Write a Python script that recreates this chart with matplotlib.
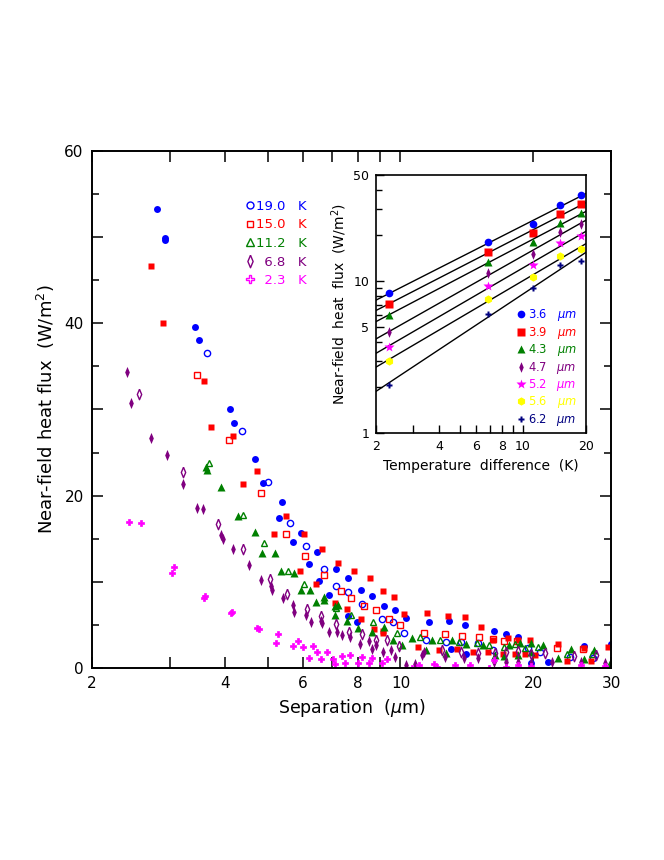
import matplotlib.pyplot as plt
import numpy as np
from matplotlib.lines import Line2D
from matplotlib.ticker import FixedLocator, MultipleLocator, FuncFormatter, NullFormatter

plt.rcParams['font.family'] = ['DejaVu Sans']
plt.rcParams['mathtext.fontset'] = 'dejavusans'

# ---- main plot data: separation (um) vs near-field heat flux (W/m^2) ----
# 19.0 K
b_fill_x = [2.80, 2.92, 2.93, 3.42, 3.50, 4.11, 4.20, 4.68, 4.87, 5.38, 5.30, 5.96, 5.72, 6.47, 6.19,
            7.13, 7.59, 6.55, 8.13, 6.89, 8.62, 9.2, 7.6, 7.97, 9.7, 10.3, 11.6, 12.9, 14.0, 16.3,
            17.3, 18.5, 13.0, 14.1, 21.6, 26.1, 30.0, 19.8]
b_fill_y = [53.3, 49.9, 49.7, 39.6, 38.1, 30.0, 28.4, 24.3, 21.5, 19.3, 17.4, 15.7, 14.6, 13.5, 12.1,
            11.5, 10.4, 10.1, 9.1, 8.5, 8.3, 7.2, 6.0, 5.3, 6.7, 5.8, 5.3, 5.4, 5.0, 4.3,
            3.9, 3.6, 2.2, 1.6, 0.7, 2.5, 2.8, 0.6]
b_open_x = [3.65, 4.38, 5.01, 5.63, 6.12, 6.72, 7.14, 7.60, 8.17, 9.1, 9.6, 10.2, 11.4, 12.7, 13.7,
            15.0, 16.2, 19.5, 20.7, 24.2, 27.3]
b_open_y = [36.6, 27.5, 21.6, 16.8, 14.2, 11.5, 9.5, 8.8, 7.4, 5.7, 5.3, 4.1, 3.2, 3.0, 3.0,
            2.9, 2.1, 2.3, 1.9, 1.3, 1.1]

# 15.0 K
r_fill_x = [2.72, 2.90, 3.58, 3.72, 4.18, 4.74, 4.39, 5.50, 5.16, 6.03, 6.64, 7.23, 7.83, 5.93, 8.54,
            6.44, 9.12, 7.10, 7.57, 8.12, 8.7, 9.12, 9.65, 10.2, 11.5, 12.8, 14.0, 15.2, 17.5, 18.5,
            19.7, 10.98, 12.2, 13.4, 14.6, 15.8, 16.2, 17.1, 18.2, 19.2, 20.2, 22.8, 23.8, 26.1,
            27.0, 29.5, 9.15]
r_fill_y = [46.7, 40.0, 33.3, 28.0, 26.9, 22.9, 21.3, 17.6, 15.5, 15.5, 13.8, 12.2, 11.2, 11.2, 10.4,
            9.8, 8.9, 7.5, 6.8, 5.7, 4.5, 4.3, 8.2, 6.3, 6.4, 6.0, 5.9, 4.7, 3.5, 3.3,
            3.2, 2.4, 2.1, 2.2, 1.9, 1.8, 3.3, 1.6, 1.6, 1.6, 1.5, 2.8, 0.8, 2.3,
            0.85, 2.4, 4.1]
r_open_x = [3.45, 4.09, 4.84, 5.51, 6.09, 6.71, 7.32, 7.73, 8.27, 8.79, 9.4, 10.0, 11.3, 12.6, 13.8,
            15.1, 16.2, 17.2, 18.4, 22.6, 25.9]
r_open_y = [34.0, 26.4, 20.3, 15.5, 13.0, 10.8, 8.9, 8.1, 7.2, 6.7, 5.7, 5.0, 4.1, 3.9, 3.7,
            3.6, 3.4, 3.1, 3.1, 2.3, 2.2]

# 11.2 K
g_fill_x = [3.65, 3.62, 3.93, 4.29, 4.68, 4.85, 5.20, 5.37, 5.75, 5.96, 6.23, 6.70, 6.70, 6.44, 7.10,
            7.2, 7.10, 7.56, 8.0, 8.62, 9.2, 9.6, 10.1, 10.6, 11.4, 11.8, 13.1, 14.1, 12.7, 15.4,
            16.4, 17.6, 18.7, 19.8, 21.0, 17.2, 18.5, 19.8, 22.7, 24.4, 26.1, 27.5, 29.8]
g_fill_y = [23.0, 23.3, 21.0, 17.6, 15.8, 13.3, 13.3, 11.2, 11.0, 9.1, 9.1, 8.2, 7.9, 7.6, 7.2,
            7.3, 6.2, 5.4, 4.6, 4.2, 4.8, 3.3, 2.7, 3.5, 2.1, 3.3, 3.3, 2.8, 1.7, 2.7,
            1.5, 2.7, 2.9, 2.9, 2.7, 1.4, 1.5, 1.9, 1.2, 2.2, 1.0, 2.1, 0.6]
g_open_x = [3.68, 4.39, 4.90, 5.55, 6.03, 7.15, 7.73, 8.67, 9.8, 11.1, 12.3, 13.6, 14.9, 15.9, 17.2,
            18.2, 19.2, 20.5, 23.9, 27.2]
g_open_y = [23.8, 17.8, 14.5, 11.2, 9.8, 7.0, 6.2, 5.3, 4.0, 3.6, 3.3, 3.0, 2.9, 2.7, 2.4,
            2.8, 2.3, 2.4, 1.6, 1.6]

# 6.8 K
p_fill_x = [2.40, 2.45, 2.72, 2.95, 3.22, 3.46, 3.57, 3.92, 3.96, 4.18, 4.53, 4.84, 5.1, 5.12, 5.43,
            5.71, 5.75, 6.12, 6.26, 6.6, 6.65, 6.87, 7.17, 7.36, 7.7, 8.1, 8.5, 8.8, 8.6, 9.15,
            9.5, 9.7, 11.2, 11.3, 10.8, 12.6, 13.9, 15.0, 16.3, 17.3, 18.5, 19.8, 22.0, 25.6, 29.0,
            10.3]
p_fill_y = [34.4, 30.8, 26.7, 24.7, 21.3, 18.6, 18.4, 15.4, 15.0, 13.8, 11.9, 10.2, 9.5, 9.1, 8.1,
            7.3, 6.5, 6.2, 5.3, 5.4, 5.2, 4.2, 4.2, 3.8, 3.6, 2.8, 3.1, 2.7, 2.2, 1.8,
            2.1, 1.3, 1.5, 1.9, 0.5, 1.3, 1.2, 1.2, 0.7, 0.7, 0.7, 0.6, 0.7, 0.7, 0.6,
            0.3]
p_open_x = [2.56, 3.21, 3.85, 4.40, 5.05, 5.54, 6.14, 6.6, 7.15, 7.65, 8.2, 8.8, 9.3, 9.9, 12.4,
            13.7, 15.0, 16.4, 17.3, 18.5, 19.8, 21.3, 24.7, 27.7]
p_open_y = [31.8, 22.7, 16.7, 13.8, 10.3, 8.6, 6.9, 6.0, 5.1, 4.2, 3.9, 3.3, 3.3, 2.6, 2.1,
            1.8, 1.7, 1.7, 1.9, 2.0, 1.6, 1.7, 1.4, 1.5]

# 2.3 K
m_x = [2.42, 2.58, 3.07, 3.03, 3.60, 3.58, 4.15, 4.12, 4.77, 4.74, 5.27, 5.22, 5.7, 5.85, 6.0,
       6.32, 6.47, 6.22, 6.6, 6.83, 7.04, 7.12, 7.36, 7.5, 7.7, 8.0, 8.2, 8.5, 8.6, 9.1,
       9.3, 10.6, 11.0, 11.9, 12.1, 13.3, 14.4, 15.9, 16.3, 17.3, 18.5, 19.8, 25.6, 29.0]
m_y = [16.9, 16.8, 11.7, 11.0, 8.4, 8.1, 6.5, 6.4, 4.5, 4.6, 3.9, 2.9, 2.5, 3.1, 2.4,
       2.6, 1.9, 1.2, 1.0, 1.8, 1.0, 0.5, 1.4, 0.6, 1.5, 0.6, 1.3, 0.6, 1.1, 0.6,
       1.0, 0.0, 0.35, 0.5, 0.1, 0.35, 0.35, 0.05, 0.9, 0.1, 0.35, 0.2, 0.35, 0.2]

# ---- inset data: temperature difference (K) vs flux for each separation ----
dT = [2.3, 6.8, 11.2, 15.0, 19.0]
sep_labels = ['3.6', '3.9', '4.3', '4.7', '5.2', '5.6', '6.2']
flux_36 = [8.3, 18.0, 23.8, 31.6, 36.9]
flux_39 = [7.1, 15.5, 20.8, 27.5, 32.0]
flux_43 = [6.0, 13.4, 18.0, 24.0, 27.9]
flux_47 = [4.6, 11.3, 15.1, 21.1, 23.8]
flux_52 = [3.7, 9.3, 12.8, 17.7, 19.9]
flux_56 = [3.0, 7.6, 10.7, 14.7, 16.3]
flux_62 = [2.07, 6.1, 9.0, 12.8, 13.6]

purple = '#800080'
green = '#008000'
diamond = [(0, 1), (0.42, 0), (0, -1), (-0.42, 0), (0, 1)]

fig = plt.figure(figsize=(6.64, 8.6), dpi=100)
ax = fig.add_axes([0.1386, 0.2233, 0.7816, 0.6012])

ax.plot(b_fill_x, b_fill_y, 'o', color='blue', ms=5, mec='none')
ax.plot(b_open_x, b_open_y, 'o', color='blue', ms=4.5, mfc='none', mew=1)
ax.plot(r_fill_x, r_fill_y, 's', color='red', ms=4.5, mec='none')
ax.plot(r_open_x, r_open_y, 's', color='red', ms=4.2, mfc='none', mew=1)
ax.plot(g_fill_x, g_fill_y, '^', color=green, ms=5.5, mec='none')
ax.plot(g_open_x, g_open_y, '^', color=green, ms=5, mfc='none', mew=1)
ax.plot(p_fill_x, p_fill_y, marker=diamond, ls='none', color=purple, ms=8, mec='none')
ax.plot(p_open_x, p_open_y, marker=diamond, ls='none', color=purple, ms=7.5, mfc='none', mew=1)
ax.plot(m_x, m_y, 'P', color='magenta', ms=5, mew=0.5)

ax.set_xscale('log')
ax.set_xlim(2, 30)
ax.set_ylim(0, 60)
ax.xaxis.set_major_locator(FixedLocator([2, 4, 6, 8, 10, 20, 30]))
ax.xaxis.set_minor_locator(FixedLocator([3, 5, 7, 9]))
ax.xaxis.set_major_formatter(FuncFormatter(lambda v, p: '%d' % round(v)))
ax.xaxis.set_minor_formatter(NullFormatter())
ax.yaxis.set_major_locator(MultipleLocator(10))
ax.yaxis.set_minor_locator(MultipleLocator(5))
ax.yaxis.set_major_formatter(FuncFormatter(lambda v, p: '%d' % v if round(v) % 20 == 0 else ''))
ax.tick_params(which='both', direction='in', top=True, right=True, labelsize=11, width=1.1)
ax.tick_params(which='major', length=8, pad=6)
ax.tick_params(which='minor', length=5)
ax.tick_params(axis='x', which='minor', length=8)
for s in ax.spines.values():
    s.set_linewidth(1.4)
ax.set_xlabel('Separation  ($\\mu$m)', fontsize=12.5, labelpad=4)
ax.set_ylabel('Near-field heat flux  (W/m$^2$)', fontsize=13, labelpad=5)

temps = ['19.0', '15.0', '11.2', '\u20076.8', '\u20072.3']
handles = [Line2D([], [], marker='o', color='blue', ls='none', mfc='none', ms=5, mew=1),
           Line2D([], [], marker='s', color='red', ls='none', mfc='none', ms=5, mew=1),
           Line2D([], [], marker='^', color=green, ls='none', mfc='none', ms=5.5, mew=1),
           Line2D([], [], marker=diamond, color=purple, ls='none', mfc='none', ms=9, mew=1),
           Line2D([], [], marker='P', color='magenta', ls='none', mfc='none', ms=6, mew=1)]
ax.legend(handles, [t + '\u2007 K' for t in temps], loc='upper left', bbox_to_anchor=(0.285, 0.918),
          frameon=False, handlelength=0.6, handletextpad=0.15, labelspacing=0.42,
          fontsize=9.5, labelcolor='linecolor', borderpad=0)

# ---- inset ----
axi = fig.add_axes([0.5663, 0.4965, 0.3163, 0.3])
inset_series = [flux_36, flux_39, flux_43, flux_47, flux_52, flux_56, flux_62]
colors = ['blue', 'red', green, purple, 'magenta', 'yellow', '#000080']
markers = ['o', 's', '^', diamond, '*', 'h', 'P']
sizes = [6.5, 6, 6.5, 9, 8.5, 7, 5.5]
xx = np.array([2, 20])
for flux, c, mk, ms, lab in zip(inset_series, colors, markers, sizes, sep_labels):
    k, b = np.polyfit(np.log10(dT), np.log10(flux), 1)
    axi.plot(xx, 10 ** (b + k * np.log10(xx)), color='black', lw=1)
    axi.plot(dT, flux, marker=mk, ls='none', color=c, ms=ms, mec='none',
             label=lab + '\u2007 $\\mu m$')
axi.set_xscale('log')
axi.set_yscale('log')
axi.set_xlim(2, 20)
axi.set_ylim(1, 50)
axi.xaxis.set_major_locator(FixedLocator([2, 4, 6, 8, 10, 20]))
axi.xaxis.set_minor_locator(FixedLocator([3, 5, 7, 9]))
axi.xaxis.set_major_formatter(FuncFormatter(lambda v, p: '%d' % round(v)))
axi.xaxis.set_minor_formatter(NullFormatter())
axi.yaxis.set_major_locator(FixedLocator([1, 5, 10, 50]))
axi.yaxis.set_minor_locator(FixedLocator([2, 3, 4, 6, 7, 8, 9, 20, 30, 40]))
axi.yaxis.set_major_formatter(FuncFormatter(lambda v, p: '%d' % round(v)))
axi.yaxis.set_minor_formatter(NullFormatter())
axi.tick_params(which='both', direction='in', labelsize=9, width=1)
axi.tick_params(which='major', length=6, pad=5)
axi.tick_params(which='minor', length=4)
axi.tick_params(axis='x', which='minor', length=6)
for s in axi.spines.values():
    s.set_linewidth(1.2)
axi.set_xlabel('Temperature  difference  (K)', fontsize=10, labelpad=4)
axi.set_ylabel('Near-field  heat  flux  (W/m$^2$)', fontsize=10, labelpad=3)
handles_in, labels_in = axi.get_legend_handles_labels()
for h in handles_in:
    h.set_markersize(h.get_markersize() * 0.85)
axi.legend(handles_in, labels_in, loc='lower left', bbox_to_anchor=(0.645, -0.002), frameon=False,
           handlelength=0.6, handletextpad=0.3, labelspacing=0.12, fontsize=8.3,
           labelcolor='linecolor', borderpad=0)

fig.savefig('out.png', dpi=100)
